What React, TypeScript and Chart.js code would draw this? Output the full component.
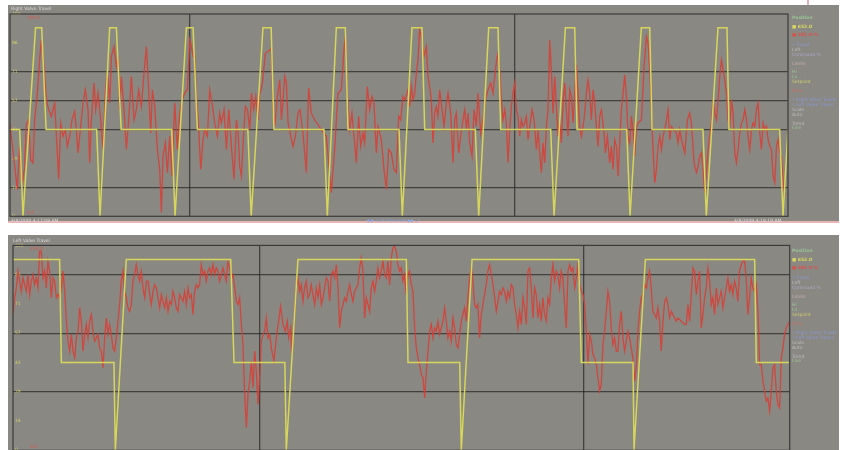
import React, { useEffect, useRef } from 'react';
import { Chart, registerables } from 'chart.js';
Chart.register(...registerables);

// time in seconds (0..70), value in valve units (0..700)
const topYellow: [number, number][] = [
  [0, 300], [0.87, 300], [1.17, 0], [2.3, 652], [2.85, 652], [3.25, 300],
  [7.8, 300], [8.1, 0], [8.97, 652], [9.57, 652], [10.0, 300],
  [14.55, 300], [14.85, 0], [15.87, 652], [16.47, 652], [16.86, 300],
  [21.4, 300], [21.7, 0], [22.76, 652], [23.5, 652], [23.75, 300],
  [28.25, 300], [28.55, 0], [29.36, 652], [30.17, 652], [30.41, 300],
  [35.0, 300], [35.3, 0], [36.17, 652], [37.07, 652], [37.31, 300],
  [41.87, 300], [42.17, 0], [43.07, 652], [43.91, 652], [44.15, 300],
  [48.65, 300], [48.95, 0], [49.97, 652], [50.81, 652], [51.02, 300],
  [55.49, 300], [55.79, 0], [56.8, 652], [57.56, 652], [57.77, 300],
  [62.35, 300], [62.65, 0], [63.7, 652], [64.51, 652], [64.69, 300],
  [69.25, 300], [69.55, 0], [70, 300],
];

const topRed: [number, number][] = [
  [0, 317], [0.12, 277], [0.42, 173], [0.66, 93], [0.87, 242], [1.08, 105], [1.32, 173], [1.47, 317], [1.68, 334], [1.86, 196],
  [2.07, 185], [2.22, 334], [2.46, 426], [2.67, 541], [2.82, 610], [3.06, 518], [3.27, 403], [3.48, 369], [3.72, 346], [4.02, 392],
  [4.26, 219], [4.38, 128], [4.56, 323], [4.77, 277], [4.98, 300], [5.16, 242], [5.37, 277], [5.58, 334], [5.82, 363], [5.97, 300],
  [6.12, 219], [6.36, 311], [6.57, 392], [6.78, 438], [7.02, 369], [7.17, 185], [7.32, 334], [7.56, 461], [7.71, 369], [7.92, 426],
  [8.16, 334], [8.37, 231], [8.58, 426], [8.76, 501], [8.97, 392], [9.12, 553], [9.36, 587], [9.57, 518], [9.72, 553], [9.87, 369],
  [10.02, 484], [10.26, 369], [10.47, 231], [10.68, 334], [10.92, 484], [11.16, 334], [11.37, 369], [11.58, 438], [11.82, 380], [12.06, 495],
  [12.27, 587], [12.42, 484], [12.66, 288], [12.81, 438], [13.02, 380], [13.26, 231], [13.47, 162], [13.62, 13], [13.77, 208], [13.98, 254],
  [14.16, 151], [14.37, 277], [14.58, 139], [14.82, 392], [15.06, 231], [15.27, 357], [15.48, 403], [15.72, 426], [15.96, 438], [16.17, 610],
  [16.32, 587], [16.47, 553], [16.62, 553], [16.77, 415], [16.98, 300], [17.16, 162], [17.37, 265], [17.52, 300], [17.76, 277], [17.97, 438],
  [18.18, 392], [18.42, 323], [18.66, 277], [18.87, 357], [19.02, 323], [19.26, 369], [19.47, 231], [19.68, 369], [19.92, 242], [20.16, 128],
  [20.37, 334], [20.52, 288], [20.67, 173], [20.82, 139], [21.06, 311], [21.18, 380], [21.36, 369], [21.57, 300], [21.72, 426], [21.93, 369],
  [22.11, 415], [22.32, 334], [22.47, 426], [22.62, 438], [22.77, 484], [22.98, 564], [23.22, 570], [23.52, 581],
  [23.67, 369], [23.82, 311], [24.06, 415], [24.27, 472], [24.42, 334], [24.57, 403], [24.72, 484], [24.87, 461], [25.02, 323], [25.26, 277],
  [25.47, 242], [25.68, 277], [25.91, 357], [26.09, 369], [26.36, 288], [26.66, 151], [26.87, 444], [27.11, 357], [27.41, 334], [28.01, 300],
  [28.46, 277], [28.91, 82], [29.21, 231], [29.51, 426], [29.81, 438], [30.05, 576], [30.17, 622], [30.35, 426], [30.56, 300], [30.77, 357],
  [30.95, 277], [31.16, 185], [31.37, 346], [31.55, 242], [31.76, 288], [31.91, 254], [32.15, 449], [32.36, 369], [32.57, 415], [32.75, 392],
  [32.96, 219], [33.11, 311], [33.41, 265], [33.65, 162], [33.86, 93], [34.07, 231], [34.31, 219], [34.55, 162], [34.76, 151], [34.97, 346],
  [35.15, 334], [35.36, 415], [35.57, 403], [35.81, 438], [35.96, 380], [36.11, 449], [36.26, 403], [36.41, 426], [36.56, 495], [36.71, 541],
  [36.86, 645], [37.01, 622], [37.25, 553], [37.46, 587], [37.61, 484], [37.76, 449], [37.91, 403], [38.06, 254], [38.21, 357], [38.36, 380],
  [38.51, 346], [38.66, 438], [38.87, 369], [39.05, 311], [39.26, 392], [39.41, 426], [39.65, 357], [39.86, 185], [40.01, 334], [40.16, 357],
  [40.37, 219], [40.55, 277], [40.76, 334], [40.91, 369], [41.06, 300], [41.21, 357], [41.36, 254], [41.57, 208], [41.75, 369], [41.96, 311],
  [42.11, 426], [42.35, 288], [42.56, 334], [42.77, 403], [43.01, 438], [43.25, 461], [43.46, 426], [43.61, 484], [43.79, 541], [43.91, 564],
  [44.06, 507], [44.21, 403], [44.36, 334], [44.51, 369], [44.66, 323], [44.81, 185], [44.96, 300], [45.11, 380], [45.26, 426], [45.41, 461],
  [45.56, 369], [45.71, 346], [45.86, 277], [46.01, 334], [46.16, 311], [46.31, 323], [46.46, 346], [46.61, 265], [46.76, 311],
  [46.97, 369], [47.15, 334], [47.36, 231], [47.51, 300], [47.66, 219], [47.81, 151], [47.96, 254], [48.11, 185], [48.26, 311], [48.41, 369],
  [48.56, 610], [48.71, 507], [48.86, 357], [49.01, 484], [49.16, 380], [49.31, 277], [49.46, 334], [49.61, 254], [49.76, 392], [49.91, 461],
  [50.06, 369], [50.21, 277], [50.36, 438], [50.51, 415], [50.66, 323], [50.81, 426], [50.96, 524], [51.11, 426], [51.26, 311], [51.41, 277],
  [51.65, 334], [51.86, 426], [52.01, 472], [52.16, 426], [52.31, 334], [52.46, 438], [52.61, 392], [52.76, 311], [52.91, 242], [53.06, 346],
  [53.21, 369], [53.45, 288], [53.57, 219], [53.75, 277], [53.96, 185], [54.11, 242], [54.26, 162], [54.41, 265], [54.56, 242], [54.71, 139],
  [54.86, 254], [55.01, 369], [55.16, 426], [55.31, 489], [55.46, 415], [55.61, 277], [55.76, 254], [55.91, 346], [56.06, 300], [56.21, 208],
  [56.36, 311], [56.51, 323], [56.81, 334], [57.05, 518], [57.26, 622], [57.41, 599], [57.56, 507], [57.71, 369], [57.86, 231], [58.01, 116],
  [58.16, 162], [58.31, 242], [58.46, 277], [58.61, 231], [58.76, 277], [58.97, 311], [59.21, 369], [59.36, 265], [59.51, 311], [59.72, 300],
  [59.96, 288], [60.11, 254], [60.26, 300], [60.41, 265], [60.71, 219], [60.95, 334], [61.15, 357], [61.31, 323], [61.55, 185], [61.76, 151],
  [61.91, 173], [62.06, 208], [62.21, 219], [62.36, 162], [62.51, 82], [62.66, 151], [62.81, 231], [62.96, 277], [63.11, 323], [63.26, 403],
  [63.41, 357], [63.56, 334], [63.71, 403], [63.86, 484], [64.01, 541], [64.16, 507], [64.31, 472], [64.46, 426], [64.61, 334], [64.76, 311],
  [64.91, 403], [65.06, 357], [65.21, 219], [65.36, 185], [65.51, 231], [65.66, 288], [65.81, 323], [65.96, 334], [66.11, 369], [66.26, 334],
  [66.41, 277], [66.56, 231], [66.71, 300], [66.86, 323], [67.01, 311], [67.16, 369], [67.31, 392], [67.46, 288], [67.61, 231], [67.76, 323],
  [67.91, 300], [68.06, 311], [68.21, 265], [68.36, 242], [68.51, 231], [68.66, 139], [68.81, 116], [68.96, 242], [69.11, 265], [69.26, 219],
  [69.41, 208], [69.56, 116], [69.71, 70],
];

const bottomYellow: [number, number][] = [
  [0, 652], [4.2, 652], [4.36, 300], [9.1, 300], [9.22, 0], [10.21, 652], [19.62, 652], [19.92, 300],
  [24.5, 300], [24.63, 0], [25.68, 652], [35.45, 652], [35.6, 300], [40.26, 300], [40.4, 0], [41.37, 652],
  [50.98, 652], [51.22, 300], [55.88, 300], [55.97, 0], [56.99, 652], [66.84, 652], [66.99, 300], [70, 300],
];

const bottomRed: [number, number][] = [
  [0, 464], [0.15, 521], [0.3, 555], [0.45, 612], [0.6, 578], [0.75, 543], [0.9, 589], [1.05, 566], [1.2, 543], [1.35, 600],
  [1.5, 532], [1.65, 578], [1.8, 600], [1.95, 566], [2.1, 589], [2.25, 555], [2.4, 680], [2.55, 680], [2.7, 589], [2.85, 612],
  [3.0, 555], [3.15, 646], [3.3, 612], [3.45, 521], [3.6, 589], [3.75, 578], [3.91, 521], [4.06, 532], [4.21, 521], [4.36, 555],
  [4.51, 612], [4.66, 543], [4.81, 441], [4.96, 373], [5.11, 339], [5.26, 396], [5.41, 339], [5.56, 316], [5.71, 384], [5.86, 407],
  [6.01, 487], [6.16, 441], [6.31, 339], [6.46, 396], [6.61, 430], [6.76, 384], [6.91, 441], [7.06, 464], [7.21, 407], [7.36, 373],
  [7.51, 384], [7.66, 396], [7.81, 350], [7.96, 339], [8.11, 282], [8.26, 384], [8.41, 452], [8.56, 396], [8.71, 430], [8.86, 396],
  [9.01, 350], [9.16, 339], [9.31, 384], [9.46, 441], [9.61, 498], [9.76, 578], [9.91, 612], [10.06, 543], [10.21, 521], [10.36, 487],
  [10.51, 475], [10.66, 498], [10.81, 578], [10.96, 600], [11.11, 634], [11.26, 600], [11.41, 578], [11.56, 612], [11.71, 555], [11.87, 521],
  [12.02, 578], [12.17, 578], [12.32, 532], [12.47, 498], [12.62, 543], [12.77, 566], [12.92, 555], [13.07, 521], [13.22, 487], [13.37, 532],
  [13.52, 509], [13.67, 487], [13.82, 521], [13.97, 475], [14.12, 509], [14.27, 498], [14.42, 543], [14.57, 521], [14.72, 487], [14.87, 475],
  [15.02, 532], [15.17, 521], [15.32, 509], [15.47, 543], [15.62, 498], [15.77, 555], [15.92, 521], [16.07, 532], [16.22, 464], [16.37, 543],
  [16.52, 566], [16.67, 555], [16.82, 566], [16.97, 634], [17.12, 600], [17.27, 612], [17.42, 578], [17.57, 612], [17.72, 623], [17.87, 600],
  [18.02, 634], [18.17, 600], [18.32, 623], [18.47, 612], [18.62, 578], [18.77, 600], [18.92, 623], [19.07, 600], [19.22, 578], [19.37, 646],
  [19.53, 623], [19.68, 589], [19.83, 600], [19.98, 555], [20.13, 509], [20.28, 498], [20.43, 521], [20.58, 430], [20.73, 361], [20.88, 191],
  [21.03, 77], [21.18, 191], [21.33, 236], [21.48, 305], [21.63, 214], [21.78, 339], [21.93, 270], [22.08, 157], [22.23, 248], [22.38, 373],
  [22.53, 396], [22.68, 407], [22.83, 452], [22.98, 384], [23.13, 396], [23.28, 350],
  [23.52, 305], [23.73, 384], [23.94, 441], [24.12, 492], [24.33, 430], [24.54, 407], [24.72, 441], [24.84, 384], [25.02, 418], [25.14, 327],
  [25.32, 430], [25.53, 555], [25.68, 589], [25.83, 543], [25.98, 566], [26.13, 509], [26.28, 555], [26.43, 578], [26.58, 521], [26.73, 532],
  [26.88, 566], [27.03, 532], [27.19, 498], [27.34, 555], [27.49, 521], [27.64, 566], [27.79, 498], [27.94, 521], [28.09, 555], [28.24, 589],
  [28.39, 578], [28.54, 509], [28.69, 600], [28.84, 612], [28.99, 589], [29.14, 634], [29.29, 555], [29.44, 418], [29.59, 475], [29.74, 498],
  [29.89, 521], [30.04, 509], [30.19, 543], [30.34, 566], [30.49, 532], [30.64, 509], [30.79, 543], [30.94, 555], [31.09, 566], [31.24, 623],
  [31.39, 657], [31.54, 612], [31.69, 452], [31.84, 521], [31.99, 498], [32.14, 475], [32.29, 555], [32.44, 578], [32.59, 543], [32.74, 578],
  [32.89, 623], [33.04, 589], [33.19, 612], [33.34, 646], [33.49, 600], [33.64, 589], [33.79, 646], [33.94, 566], [34.09, 657], [34.24, 691],
  [34.39, 697], [34.54, 680], [34.69, 634], [34.84, 612], [34.99, 623], [35.14, 578], [35.29, 600], [35.44, 532], [35.59, 600], [35.74, 612],
  [35.9, 566], [36.05, 543], [36.2, 418], [36.35, 350], [36.5, 316], [36.65, 293], [36.8, 259], [36.95, 248], [37.1, 179], [37.25, 270],
  [37.4, 339], [37.55, 407], [37.7, 430], [37.85, 384], [38.0, 418], [38.15, 407], [38.3, 441], [38.45, 396], [38.6, 418], [38.75, 441],
  [38.9, 487], [39.05, 441], [39.2, 384], [39.35, 407], [39.5, 373], [39.65, 452], [39.8, 418], [39.95, 361], [40.1, 350], [40.25, 396],
  [40.4, 441], [40.55, 464], [40.7, 487], [40.85, 441], [41.0, 521], [41.15, 589], [41.3, 623], [41.45, 578], [41.6, 498], [41.75, 487],
  [41.9, 498], [42.05, 384], [42.2, 464], [42.35, 498], [42.5, 532], [42.65, 566], [42.8, 612], [42.95, 634], [43.11, 600], [43.26, 566],
  [43.41, 521], [43.56, 475], [43.71, 509], [43.86, 543], [44.01, 532], [44.16, 555], [44.31, 543], [44.46, 509], [44.61, 543], [44.76, 521],
  [44.91, 566], [45.06, 555], [45.21, 498], [45.36, 464], [45.51, 418], [45.66, 475], [45.81, 430], [45.96, 521], [46.11, 487], [46.26, 430],
  [46.41, 612], [46.56, 623], [46.71, 555],
  [46.86, 452], [47.01, 555], [47.16, 532], [47.31, 452], [47.46, 498], [47.61, 441], [47.76, 521], [47.91, 464], [48.06, 441], [48.21, 521],
  [48.36, 498], [48.51, 589], [48.66, 634], [48.81, 578], [48.96, 612], [49.11, 600], [49.26, 555], [49.41, 612], [49.56, 589], [49.71, 498],
  [49.86, 418], [50.02, 612], [50.17, 634], [50.32, 612], [50.47, 623], [50.62, 555], [50.77, 589], [50.92, 634], [51.07, 566], [51.22, 543],
  [51.37, 532], [51.52, 498], [51.67, 407], [51.82, 293], [51.97, 396], [52.12, 373], [52.27, 327], [52.42, 316], [52.57, 293], [52.72, 248],
  [52.87, 202], [53.02, 225], [53.17, 361], [53.32, 407], [53.47, 475], [53.62, 543], [53.77, 509], [53.92, 418], [54.07, 361], [54.22, 384],
  [54.37, 339], [54.52, 339], [54.67, 430], [54.82, 475], [54.97, 384], [55.12, 339], [55.27, 373], [55.42, 407], [55.57, 384], [55.72, 350],
  [55.87, 316], [56.02, 236], [56.17, 282], [56.32, 407], [56.47, 475], [56.62, 521], [56.77, 532], [56.92, 566], [57.07, 555], [57.22, 589],
  [57.37, 612], [57.52, 555], [57.67, 475], [57.82, 464], [57.97, 452], [58.12, 487], [58.27, 441], [58.42, 339], [58.58, 441], [58.73, 509],
  [58.88, 521], [59.03, 498], [59.18, 452], [59.33, 475], [59.48, 464], [59.63, 452], [59.78, 441], [59.93, 452], [60.23, 441], [60.53, 430],
  [60.68, 430], [60.83, 498], [60.98, 441], [61.13, 532], [61.28, 623], [61.43, 612], [61.58, 532], [61.73, 578], [61.88, 612], [62.03, 418],
  [62.18, 464], [62.33, 521], [62.48, 555], [62.63, 623], [62.78, 578], [62.93, 498], [63.08, 521], [63.23, 464], [63.38, 555], [63.53, 498],
  [63.68, 521], [63.83, 543], [63.98, 487], [64.13, 521], [64.28, 555], [64.43, 589], [64.58, 543], [64.73, 566], [64.88, 532], [65.03, 578],
  [65.18, 555], [65.33, 509], [65.48, 612], [65.63, 634], [65.78, 646], [65.93, 646], [66.08, 589], [66.23, 464], [66.38, 521], [66.53, 589],
  [66.68, 555], [66.83, 543], [66.98, 566], [67.14, 475], [67.29, 293], [67.44, 293], [67.59, 236], [67.74, 202], [67.89, 168], [68.04, 179],
  [68.19, 134], [68.34, 202], [68.49, 282], [68.64, 293], [68.79, 202], [68.94, 157], [69.09, 145], [69.24, 316], [69.39, 350], [69.54, 396],
  [69.69, 418], [69.99, 441],
];

const topTimeGrid = [16.2, 45.44];
const bottomTimeGrid = [22.26, 51.46];
const yTicks = [0, 100, 200, 300, 400, 500, 600, 700];
const yTickLabels = ['0', '14', '29', '43', '57', '71', '86', '100'];
const topValueGrid = [100, 300, 400, 500];
const bottomValueGrid = [200, 400, 600];

const topTitle = 'Right Valve Travel';
const bottomTitle = 'Left Valve Travel';
const topStart = '4/8/2009 4:17:09 AM';
const topEnd = '4/8/2009 4:18:19 AM';
const topControls = '◀ ▶ 1:10 Seconds ▶▶ ⤢';
const redTopLabel = '100.0';
const redBottomLabel = '0.0';

const legendText = ['Position', '■ 652.0', '■ 581.0 %', '• Travel', 'Left', 'Command %', 'Limits', 'Hi', 'Lo', 'Setpoint', 'Error', '• Right Valve Travel', '• Left Valve Travel', 'Scale', 'Auto', 'Trend', 'Live'];
const legendColor = ['#98c494', '#d8d860', '#d8544a', '#8898d0', '#bcbcbc', '#a8a8c8', '#c8acac', '#98c494', '#98c494', '#cccc70', '#c8706a', '#8898d0', '#8898d0', '#bcbcbc', '#bcbcbc', '#bcbcbc', '#98c494'];

const YELLOW = 'rgb(214,214,90)';
const RED = 'rgba(214,64,54,0.9)';
const GRID = 'rgba(38,38,38,0.72)';
const BG = '#8a8883';

const framePlugin = {
  id: 'frame',
  afterDraw(chart: any, _args: any, opts: any) {
    const { ctx, chartArea: a } = chart;
    ctx.save();
    ctx.strokeStyle = '#3b3b3b';
    ctx.lineWidth = 1.2;
    ctx.strokeRect(a.left, a.top, a.width, a.height);
    ctx.font = '4.5px "DejaVu Sans"';
    ctx.fillStyle = '#d8544a';
    ctx.textBaseline = 'top';
    ctx.fillText(opts.topText, a.left + 17, a.top + 1.5);
    ctx.textBaseline = 'bottom';
    ctx.fillText(opts.bottomText, a.left + 17, a.bottom - 1);
    ctx.restore();
  },
};

function makeChart(canvas: HTMLCanvasElement, yellow: [number, number][], red: [number, number][], tgrid: number[], vgrid: number[], padding: any) {
  return new Chart(canvas, {
    type: 'line',
    data: {
      datasets: [
        { data: yellow.map(([x, y]) => ({ x, y })), borderColor: YELLOW, borderWidth: 1.5, pointRadius: 0, tension: 0 },
        { data: red.map(([x, y]) => ({ x, y })), borderColor: RED, borderWidth: 1.3, pointRadius: 0, tension: 0 },
      ],
    },
    options: {
      animation: false,
      responsive: false,
      maintainAspectRatio: false,
      parsing: false as any,
      layout: { padding },
      plugins: {
        legend: { display: false },
        tooltip: { enabled: false },
        frame: { topText: redTopLabel, bottomText: redBottomLabel },
      } as any,
      scales: {
        x: {
          type: 'linear',
          min: 0,
          max: 70,
          afterFit: (s: any) => { s.height = 0; },
          afterBuildTicks: (s: any) => { s.ticks = tgrid.map((v) => ({ value: v })); },
          ticks: { display: false },
          grid: { color: GRID, lineWidth: 1.3, drawTicks: false },
          border: { display: false },
        },
        y: {
          type: 'linear',
          min: 0,
          max: 700,
          afterFit: (s: any) => { s.width = 0; },
          afterBuildTicks: (s: any) => { s.ticks = yTicks.map((v) => ({ value: v })); },
          ticks: {
            mirror: true,
            padding: 2,
            color: 'rgba(222,222,100,0.85)',
            font: { size: 4.5, family: 'DejaVu Sans' },
            callback: (v: any) => yTickLabels[yTicks.indexOf(Number(v))] ?? '',
          },
          grid: {
            color: (c: any) => (vgrid.includes(c.tick?.value) ? GRID : 'rgba(0,0,0,0)'),
            lineWidth: 1.3,
            drawTicks: false,
          },
          border: { display: false },
        },
      },
    } as any,
    plugins: [framePlugin as any],
  });
}

const tiny: React.CSSProperties = { position: 'absolute', fontFamily: 'DejaVu Sans', fontSize: 4.5, lineHeight: '5px', whiteSpace: 'nowrap' };
const legendTops = [15, 24, 32, 42, 47, 52, 61, 69, 74, 79, 88, 97, 102, 107, 112, 121, 125];

function Legend({ top }: { top: number }) {
  return (
    <>
      {legendText.map((t, i) => (
        <div key={i} style={{ ...tiny, left: 792, top: top + legendTops[i], color: legendColor[i], fontWeight: i < 3 ? 'bold' : 'normal' }}>{t}</div>
      ))}
    </>
  );
}

export default function App() {
  const topRef = useRef<HTMLCanvasElement>(null);
  const botRef = useRef<HTMLCanvasElement>(null);
  useEffect(() => {
    const c1 = makeChart(topRef.current!, topYellow, topRed, topTimeGrid, topValueGrid, { left: 2, top: 9, right: 51, bottom: 4 });
    const c2 = makeChart(botRef.current!, bottomYellow, bottomRed, bottomTimeGrid, bottomValueGrid, { left: 5, top: 10.4, right: 49.3, bottom: 4.4 });
    return () => { c1.destroy(); c2.destroy(); };
  }, []);
  return (
    <div style={{ position: 'fixed', left: 0, top: 0, width: 844, height: 450, background: '#fff', overflow: 'hidden' }}>
      <div style={{ position: 'absolute', left: 807, top: 0, width: 1.5, height: 5, background: '#e6b0b8' }} />
      <div style={{ position: 'absolute', left: 8, top: 5, width: 831, height: 216, background: BG }}>
        <canvas ref={topRef} width={831} height={216} style={{ position: 'absolute', left: 0, top: 0, width: 831, height: 216 }} />
      </div>
      <div style={{ position: 'absolute', left: 8, top: 221, width: 831, height: 2, background: '#e8b4b4' }} />
      <div style={{ ...tiny, left: 11, top: 6, color: '#dadada' }}>{topTitle}</div>
      <div style={{ ...tiny, left: 11, top: 217.5, color: '#dadada' }}>{topStart}</div>
      <div style={{ ...tiny, left: 366, top: 217.5, color: '#8fa8e0' }}>{topControls}</div>
      <div style={{ ...tiny, left: 734, top: 217.5, color: '#dadada' }}>{topEnd}</div>
      <Legend top={0} />
      <div style={{ position: 'absolute', left: 8, top: 235, width: 831, height: 220, background: BG }}>
        <canvas ref={botRef} width={831} height={220} style={{ position: 'absolute', left: 0, top: 0, width: 831, height: 220 }} />
      </div>
      <div style={{ ...tiny, left: 13, top: 237.5, color: '#dadada' }}>{bottomTitle}</div>
      <Legend top={233} />
    </div>
  );
}
